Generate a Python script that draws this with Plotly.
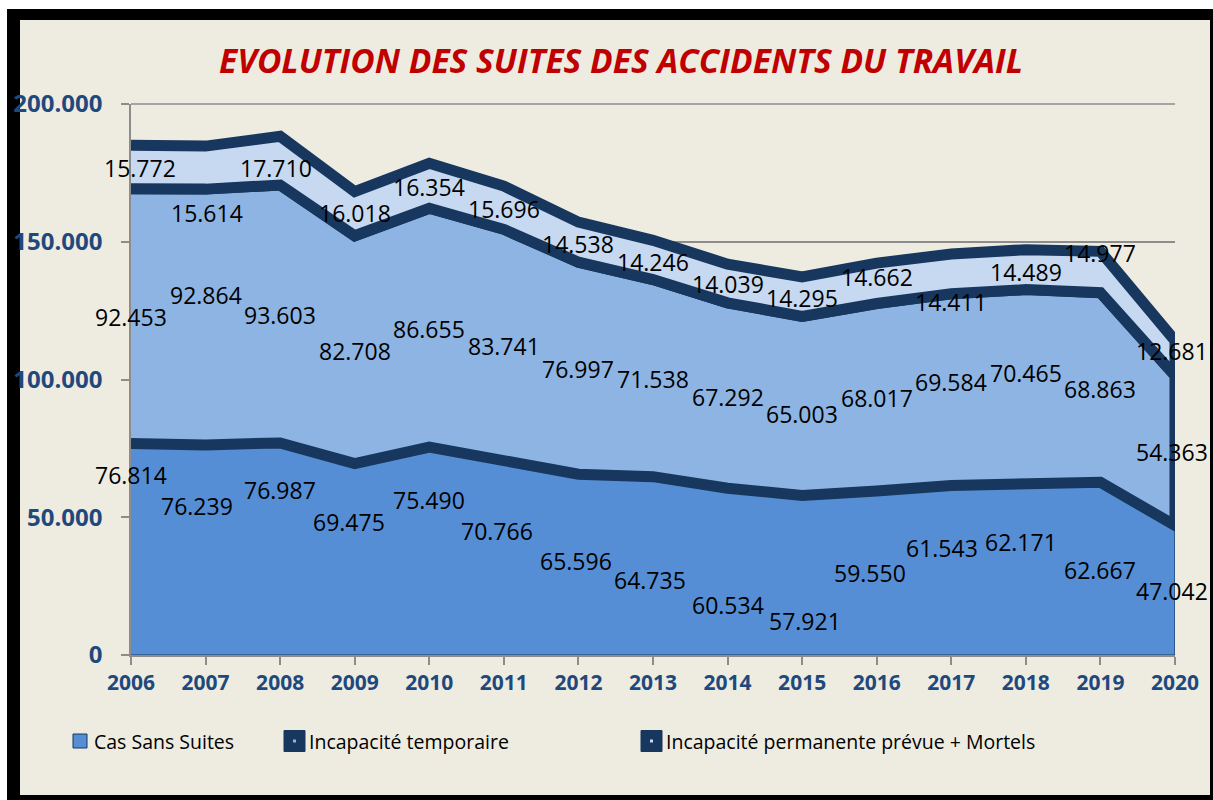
import plotly.graph_objects as go

# ---------------- data ----------------
years = [2006, 2007, 2008, 2009, 2010, 2011, 2012, 2013, 2014, 2015, 2016, 2017, 2018, 2019, 2020]
cas_sans_suites = [76814, 76239, 76987, 69475, 75490, 70766, 65596, 64735, 60534, 57921, 59550, 61543, 62171, 62667, 47042]
incapacite_temporaire = [92453, 92864, 93603, 82708, 86655, 83741, 76997, 71538, 67292, 65003, 68017, 69584, 70465, 68863, 54363]
incapacite_permanente_mortels = [15772, 15614, 17710, 16018, 16354, 15696, 14538, 14246, 14039, 14295, 14662, 14411, 14489, 14977, 12681]
series_names = ["Cas Sans Suites", "Incapacité temporaire", "Incapacité permanente prévue + Mortels"]
title_text = "EVOLUTION DES SUITES DES ACCIDENTS DU TRAVAIL"
y_ticks = [0, 50000, 100000, 150000, 200000]

# ---------------- style ----------------
W, H = 1213, 800
ML, MR, MT, MB = 131, 38, 104, 145
PW, PH = W - ML - MR, H - MT - MB
BG = "#EEECE1"
NAVY = "#17375E"
FILLS = ["#558ED5", "#8DB4E2", "#C6D9F1"]
TICK_COLOR = "#1F497D"
GRID = "#8C8C8C"
FONT = "Open Sans"

# label offsets (pixels) relative to the top edge of each band
label_dy = [
    [-32, -61, -47, -58, -53, -71, -87, -103, -117, -126, -82, -63, -58, -88, -66],
    [-128, -106, -130, -115, -121, -117, -107, -99, -94, -98, -94, -88, -83, -96, -76],
    [-23, -67, -32, -21, -24, -23, -22, -22, -20, -21, -14, -48, -22, -2, -10],
]
label_dx = [
    [0, -9, 0, -6, 0, -7, -2, -3, 0, 3, -7, -9, -5, 0, -3],
    [0, 0, 0, 0, 0, 0, 0, 0, 0, 0, 0, 0, 0, 0, -3],
    [9, 1, -4, 0, 0, 0, 0, 0, 0, 0, 0, 0, 0, 0, -3],
]


def px(x):
    return (x - ML) / PW


def py(y):
    return (H - MB - y) / PH


def fmt(v):
    return f"{v:,}".replace(",", ".")


series = [cas_sans_suites, incapacite_temporaire, incapacite_permanente_mortels]
lower = [0] * len(years)
bands = []
for vals in series:
    upper = [a + b for a, b in zip(lower, vals)]
    bands.append((lower, upper))
    lower = upper

fig = go.Figure()
line_widths = [1.2, 11, 11]
for k, (lo, up) in enumerate(bands):
    fig.add_trace(go.Scatter(
        x=years + years[::-1],
        y=up + lo[::-1],
        fill="toself",
        fillcolor=FILLS[k],
        mode="lines",
        line=dict(color=NAVY, width=line_widths[k]),
        name=series_names[k],
        showlegend=False,
        hoverinfo="skip",
    ))

annotations = []
for k, (lo, up) in enumerate(bands):
    for i, yr in enumerate(years):
        annotations.append(dict(
            x=yr, y=up[i], xref="x", yref="y", text=fmt(series[k][i]),
            showarrow=False, xshift=label_dx[k][i], yshift=label_dy[k][i],
            font=dict(family=FONT, size=23, color="black"),
        ))

shapes = [
    dict(type="rect", xref="paper", yref="paper", layer="below",
         x0=px(7), x1=px(1214), y0=py(801), y1=py(9),
         fillcolor="black", line=dict(width=0)),
    dict(type="rect", xref="paper", yref="paper", layer="below",
         x0=px(20), x1=px(1210), y0=py(795), y1=py(20),
         fillcolor=BG, line=dict(width=0)),
    # top gridline (at the upper end of the axis range)
    dict(type="line", xref="paper", yref="paper", layer="below",
         x0=0, x1=1, y0=1, y1=1,
         line=dict(color=GRID, width=1.5)),
]

# manual legend
legend_items = [
    (73, 87, 92, False),
    (284, 305, 307, True),
    (641, 662, 664, True),
]
ly = 741
for k, (x0, x1, tx, outlined) in enumerate(legend_items):
    half = (x1 - x0) / 2
    if outlined:
        shapes.append(dict(type="rect", xref="paper", yref="paper",
                           x0=px(x0), x1=px(x1), y0=py(ly + half), y1=py(ly - half),
                           fillcolor=NAVY, line=dict(color=NAVY, width=1)))
        cx = (x0 + x1) / 2
        shapes.append(dict(type="rect", xref="paper", yref="paper",
                           x0=px(cx - 1.5), x1=px(cx + 1.5), y0=py(ly + 1.5), y1=py(ly - 1.5),
                           fillcolor=FILLS[k], line=dict(width=0)))
    else:
        shapes.append(dict(type="rect", xref="paper", yref="paper",
                           x0=px(x0), x1=px(x1), y0=py(ly + half), y1=py(ly - half),
                           fillcolor=FILLS[k], line=dict(color=NAVY, width=1)))
    annotations.append(dict(
        x=px(tx), y=py(ly), xref="paper", yref="paper", text=series_names[k],
        showarrow=False, xanchor="left", yanchor="middle",
        font=dict(family=FONT, size=19.5, color="black"),
    ))

fig.update_layout(
    width=W, height=H,
    margin=dict(l=ML, r=MR, t=MT, b=MB, pad=0),
    paper_bgcolor="white",
    plot_bgcolor="rgba(0,0,0,0)",
    separators=",.",
    showlegend=False,
    title=dict(text=title_text, x=621 / W, xref="container", xanchor="center",
               y=1 - 61 / H, yref="container", yanchor="middle",
               font=dict(family=FONT, size=33.5, color="#C00000", weight="bold", style="italic")),
    xaxis=dict(range=[years[0], years[-1]], tickmode="array", tickvals=years,
               showgrid=False, zeroline=False, showline=True, linecolor=GRID, linewidth=1.5,
               ticks="outside", ticklen=8, tickcolor=GRID, tickwidth=1.5,
               tickfont=dict(family=FONT, size=21, color=TICK_COLOR, weight="bold")),
    yaxis=dict(range=[0, 200000], tickmode="array", tickvals=y_ticks, tickformat=",d",
               showgrid=True, gridcolor=GRID, gridwidth=1.5, zeroline=False,
               showline=True, linecolor=GRID, linewidth=1.5,
               ticks="outside", ticklen=8, tickcolor=GRID, tickwidth=1.5,
               ticklabelstandoff=14,
               tickfont=dict(family=FONT, size=24, color=TICK_COLOR, weight="bold")),
    shapes=shapes,
    annotations=annotations,
)

fig.write_html("out.html", config={"displayModeBar": False},
               post_script="document.body.style.margin='0';document.body.style.overflow='hidden';")
